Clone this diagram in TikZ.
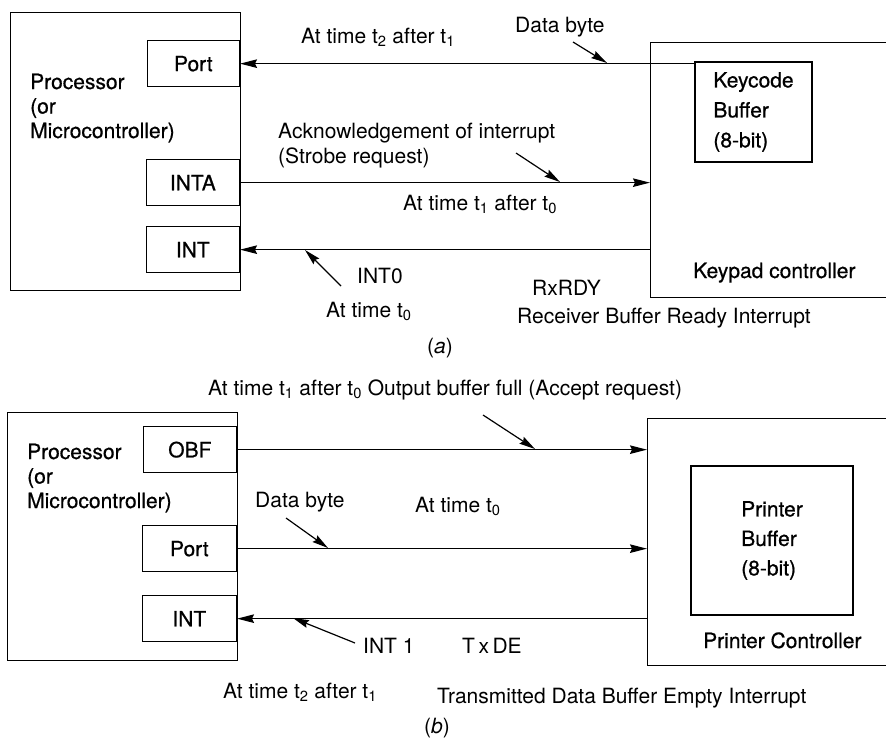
\documentclass[tikz,border=0pt]{standalone}
\usepackage{fontspec}
\setmainfont{TeX Gyre Heros}
\newfontfamily\heavyfont[FakeBold=0.7]{TeX Gyre Heros}
\usetikzlibrary{arrows.meta}
\tikzset{
  lbl/.style={font=\fontsize{21}{25}\selectfont, inner sep=0pt},
  hlbl/.style={font=\heavyfont\fontsize{21}{25}\selectfont, inner sep=0pt},
  box/.style={draw, line width=1.3pt, inner sep=0pt, font=\heavyfont\fontsize{21}{25}\selectfont},
  pin/.style={box, minimum height=46pt, anchor=north east},
  arr/.style={line width=1.2pt, -{Stealth[length=17pt,width=8.5pt,inset=2pt]}},
  ptr/.style={line width=1.2pt, -{Stealth[length=16pt,width=8pt,inset=2pt]}}
}
\begin{document}
\begin{tikzpicture}[x=1pt,y=-1pt]
\useasboundingbox (0,0) rectangle (886,739);

% ---------- (a) keypad interface ----------
\node[box, minimum width=230pt, minimum height=278pt, anchor=north west] (cpua) at (10,12) {};
\node[pin, minimum width=92pt] (porta) at (240,40) {Port};
\node[pin, minimum width=93pt] (inta) at (240,159) {INTA};
\node[pin, minimum width=93pt] (inta0) at (240,226) {INT};
% multi-line nodes: the base anchor sits on the last line
\node[hlbl, anchor=base west, align=left, font=\heavyfont\fontsize{21}{24.5}\selectfont] (cpualbl) at (30,138) {Processor\\(or\\Microcontroller)};

\node[box, minimum width=260pt, minimum height=255pt, anchor=north west] (kpc) at (650,42) {};
\node[box, minimum width=117pt, minimum height=100pt, align=left, font=\heavyfont\fontsize{21}{30}\selectfont] (kbuf) at (753.5,112) {Keycode\\Buffer\\(8-bit)};
\node[hlbl, anchor=base west] (kpclbl) at (693,278) {Keypad controller};

\draw[arr] (kbuf.west |- porta.east) -- (porta.east);
\draw[arr] (inta.east) -- (kpc.west |- inta.east);
\draw[arr] (kpc.west |- inta0.east) -- (inta0.east);

\node[lbl, anchor=base west] (la1) at (301,43) {At time t\textsubscript{2} after t\textsubscript{1}};
\node[lbl, anchor=base west] (la2) at (515,32) {Data byte};
\node[lbl, anchor=base west, align=left] (la3) at (278,163) {Acknowledgement of interrupt\\(Strobe request)};
\node[lbl, anchor=base west] (la4) at (403,210) {At time t\textsubscript{1} after t\textsubscript{0}};
\node[lbl, anchor=base west] (la5) at (357,283) {INT0};
\node[lbl, anchor=base west] (la6) at (326,317) {At time t\textsubscript{0}};
\node[lbl, anchor=base west] (la7) at (532,295) {RxRDY};
\node[lbl, anchor=base west] (la8) at (517,323) {Receiver Buffer Ready Interrupt};
\node[lbl, anchor=base] (capa) at (440,353) {(\textit{a})};

\coordinate (pa1s) at (573,42);  \coordinate (pa1e) at (607,63);
\coordinate (pa2s) at (516,153); \coordinate (pa2e) at (560,182);
\coordinate (pa3s) at (341,286); \coordinate (pa3e) at (305,250);
\draw[ptr] (pa1s) -- (pa1e);
\draw[ptr] (pa2s) -- (pa2e);
\draw[ptr] (pa3s) -- (pa3e);

% ---------- (b) printer interface ----------
\node[box, minimum width=230pt, minimum height=248pt, anchor=north west] (cpub) at (7,412) {};
\node[pin, minimum width=93pt] (obf) at (237,426) {OBF};
\node[pin, minimum width=94pt] (portb) at (237,525) {Port};
\node[pin, minimum width=94pt] (intb) at (237,595) {INT};
\node[hlbl, anchor=base west, align=left, font=\heavyfont\fontsize{21}{24.5}\selectfont] (cpublbl) at (27,508) {Processor\\(or\\Microcontroller)};

\node[box, minimum width=260pt, minimum height=247pt, anchor=north west] (prc) at (647,418) {};
\node[box, minimum width=162pt, minimum height=149pt, align=left, font=\heavyfont\fontsize{21}{29.5}\selectfont] (pbuf) at (772,540.5) {Printer\\Buffer\\(8-bit)};
\node[hlbl, anchor=base west] (prclbl) at (703,648) {Printer Controller};

\draw[arr] (obf.east) -- (prc.west |- obf.east);
\draw[arr] (portb.east) -- (prc.west |- portb.east);
\draw[arr] (prc.west |- intb.east) -- (intb.east);

\node[lbl, anchor=base west] (lb1) at (208,395) {At time t\textsubscript{1} after t\textsubscript{0} Output buffer full (Accept request)};
\node[lbl, anchor=base west] (lb2) at (255,507) {Data byte};
\node[lbl, anchor=base west] (lb3) at (415,512) {At time t\textsubscript{0}};
\node[lbl, anchor=base west] (lb4) at (363,653) {INT 1};
\node[lbl, anchor=base west] (lb5) at (462,653) {T\,x\,DE};
\node[lbl, anchor=base west] (lb6) at (223,698) {At time t\textsubscript{2} after t\textsubscript{1}};
\node[lbl, anchor=base west] (lb7) at (437,703) {Transmitted Data Buffer Empty Interrupt};
\node[lbl, anchor=base] (capb) at (437,733) {(\textit{b})};

\coordinate (pb1s) at (483,415); \coordinate (pb1e) at (535,449);
\coordinate (pb2s) at (286,518); \coordinate (pb2e) at (328,548);
\coordinate (pb3s) at (355,643); \coordinate (pb3e) at (293,618);
\draw[ptr] (pb1s) -- (pb1e);
\draw[ptr] (pb2s) -- (pb2e);
\draw[ptr] (pb3s) -- (pb3e);
\end{tikzpicture}
\end{document}
